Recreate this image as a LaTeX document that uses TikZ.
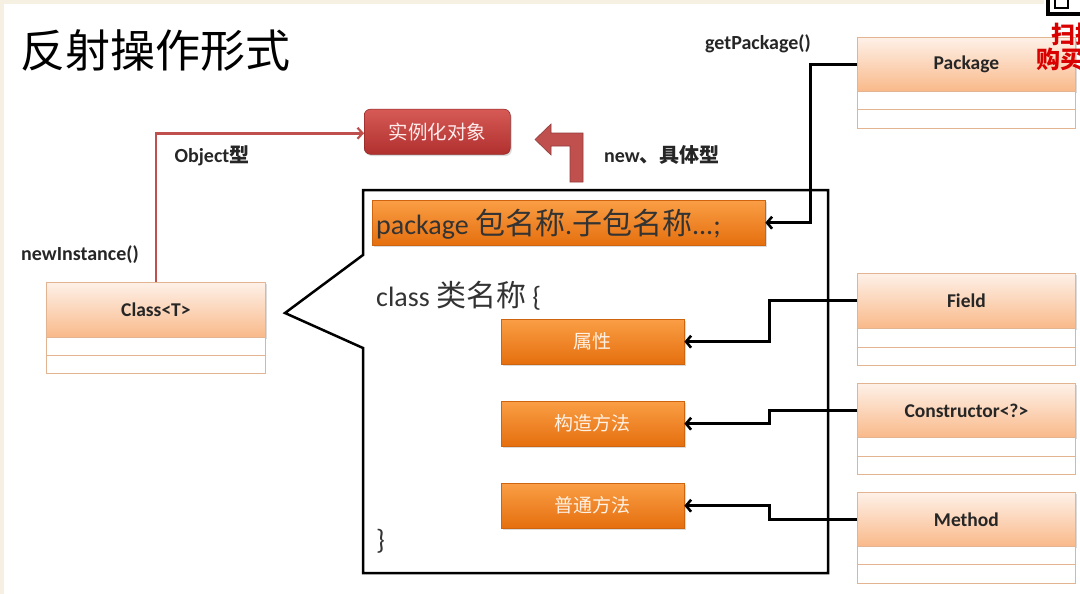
\documentclass[tikz,border=0pt]{standalone}
\usepackage{fontspec}
\setmainfont{Carlito}
\newfontfamily\cjk{Noto Sans CJK SC}
\usetikzlibrary{arrows.meta,shadows}
\definecolor{umlborder}{HTML}{E3B491}
\definecolor{umltop}{HTML}{FEF1E8}
\definecolor{umlbot}{HTML}{F9B98A}
\definecolor{ortop}{HTML}{FA9E45}
\definecolor{orbot}{HTML}{E56F0E}
\definecolor{redtop}{HTML}{D65A56}
\definecolor{redbot}{HTML}{B0302E}
\definecolor{redline}{HTML}{C0504D}
\definecolor{cream}{HTML}{F6F0E2}
\tikzset{
  umlhead/.style={draw=umlborder, line width=0.8pt, top color=umltop, bottom color=umlbot,
    anchor=north west, minimum width=218pt, inner sep=0pt,
    font=\fontsize{19.5}{22}\selectfont\bfseries, text=black!85},
  umlrow/.style={draw=umlborder, line width=0.8pt, fill=white, anchor=north west,
    minimum width=218pt, inner sep=0pt},
  shad/.style={drop shadow={opacity=0.28, shadow xshift=1.5pt, shadow yshift=-1.8pt}},
  orbox/.style={top color=ortop, bottom color=orbot, draw=orbot!90!black, line width=0.4pt,
    anchor=north west, minimum width=183pt, minimum height=45pt, inner sep=0pt,
    font=\cjk\fontsize{19}{22}\selectfont, text=orange!10},
  conn/.style={line width=3pt, black, -{Straight Barb[length=5pt,width=12pt,line width=2.6pt]}},
  lab/.style={font=\fontsize{20}{24}\selectfont\bfseries, text=black!85, inner sep=0pt},
  code/.style={anchor=west, inner sep=0pt, text=black!80, font=\fontsize{28}{32}\selectfont},
}
\newcommand\cjkbig[1]{{\cjk\fontsize{30}{32}\selectfont #1}}
\begin{document}
\begin{tikzpicture}[x=1pt,y=-1pt]
\useasboundingbox (0,0) rectangle (1080,594);
\fill[cream] (0,0) rectangle (1080,594);
\fill[white] (4,4) rectangle (1080,594);

% title
\node[anchor=west, inner sep=0pt, font=\cjk\fontsize{45}{50}\selectfont] (title) at (20,51) {反射操作形式};

% instance node
\node[shad, rounded corners=6pt, top color=redtop, bottom color=redbot, draw=redbot!80!black, line width=0.5pt,
  anchor=north west, minimum width=146pt, minimum height=45pt, inner sep=0pt,
  font=\cjk\fontsize{19.5}{22}\selectfont, text=red!8] (inst) at (364,109) {实例化对象};

% bent block arrow
\filldraw[fill=redline, draw=redline!75!black, line width=0.6pt]
  (570,182) -- (583,182) -- (583,133) -- (551,133) -- (551,124) -- (535,139.5) -- (551,155) -- (551,146) -- (570,146) -- cycle;

% big outline (callout)
\draw[line width=2.5pt, line join=miter] (363,190) -- (828,190) -- (828,573) -- (363,573) -- (363,348) -- (285,313) -- (363,255) -- cycle;

% package statement
\node[shad, top color=ortop, bottom color=orbot, draw=orbot!90!black, line width=0.4pt, anchor=north west,
  minimum width=393pt, minimum height=45pt, inner sep=0pt] (stmt) at (372,200) {};
\node[code] (stmttxt) at (376,224) {package \cjkbig{包名称}.\cjkbig{子包名称}...;};

\node[code] (cls1) at (376,296) {class \cjkbig{类名称} \{};
\node[code] (cls2) at (376,541) {\}};

% orange member boxes
\node[orbox, shad] (attr) at (501,319) {属性};
\node[orbox, shad] (ctorm) at (501,401) {构造方法};
\node[orbox, shad] (meth) at (501,483) {普通方法};

% UML boxes
\node[umlhead, shad, minimum height=54pt] (pkg) at (857,37) {Package};
\node[umlrow, minimum height=18pt] (pkg1) at (857,91) {};
\node[umlrow, minimum height=19pt] (pkg2) at (857,109) {};

\node[umlhead, shad, minimum height=55pt] (fld) at (857,273) {Field};
\node[umlrow, minimum height=19pt] (fld1) at (857,328) {};
\node[umlrow, minimum height=18pt] (fld2) at (857,347) {};

\node[umlhead, shad, minimum height=54pt] (ctor) at (857,383) {Constructor<?>};
\node[umlrow, minimum height=19pt] (ctor1) at (857,437) {};
\node[umlrow, minimum height=18pt] (ctor2) at (857,456) {};

\node[umlhead, shad, minimum height=54pt] (mth) at (857,492) {Method};
\node[umlrow, minimum height=18pt] (mth1) at (857,546) {};
\node[umlrow, minimum height=19pt] (mth2) at (857,564) {};

\node[umlhead, shad, minimum height=55pt, minimum width=219pt] (cls) at (46,282) {Class<T>};
\node[umlrow, minimum height=18pt, minimum width=219pt] (cls1r) at (46,337) {};
\node[umlrow, minimum height=18pt, minimum width=219pt] (cls2r) at (46,355) {};

% connectors
\draw[conn] (pkg.west) -- ++(-47,0) |- (stmt.east);
\draw[conn] (fld.west) -- ++(-88,0) |- (attr.east);
\draw[conn] (ctor.west) -- ++(-88,0) |- (ctorm.east);
\draw[conn] (mth.west) -- ++(-88,0) |- (meth.east);
\draw[line width=2.6pt, redline, -{Straight Barb[length=5pt,width=11pt,line width=2.2pt]}] (cls.north) |- ([yshift=-1.5pt]inst.west);

% labels
\node[lab] (lgp) at (758,44) {getPackage()};
\node[lab] (lobj) at (212,156) {Object{\cjk 型}};
\node[lab] (lni) at (80,255) {newInstance()};
\node[lab] (lnew) at (662,155) {new{\cjk 、具体型}};

% watermark (cut off at the right edge, as in the source)
\fill[white] (1044,0) rectangle (1080,18);
\draw[line width=3.5pt] (1048,-10) rectangle (1095,14);
\draw[line width=2.5pt] (1055,-6) rectangle (1068,8);
\node[anchor=north west, inner sep=0pt, text=red!85!black, font=\cjk\bfseries\fontsize{24}{26}\selectfont] (wm1) at (1051,23) {扫描};
\node[anchor=north west, inner sep=0pt, text=red!85!black, font=\cjk\bfseries\fontsize{24}{26}\selectfont] (wm2) at (1036,48) {购买};
\end{tikzpicture}
\end{document}
